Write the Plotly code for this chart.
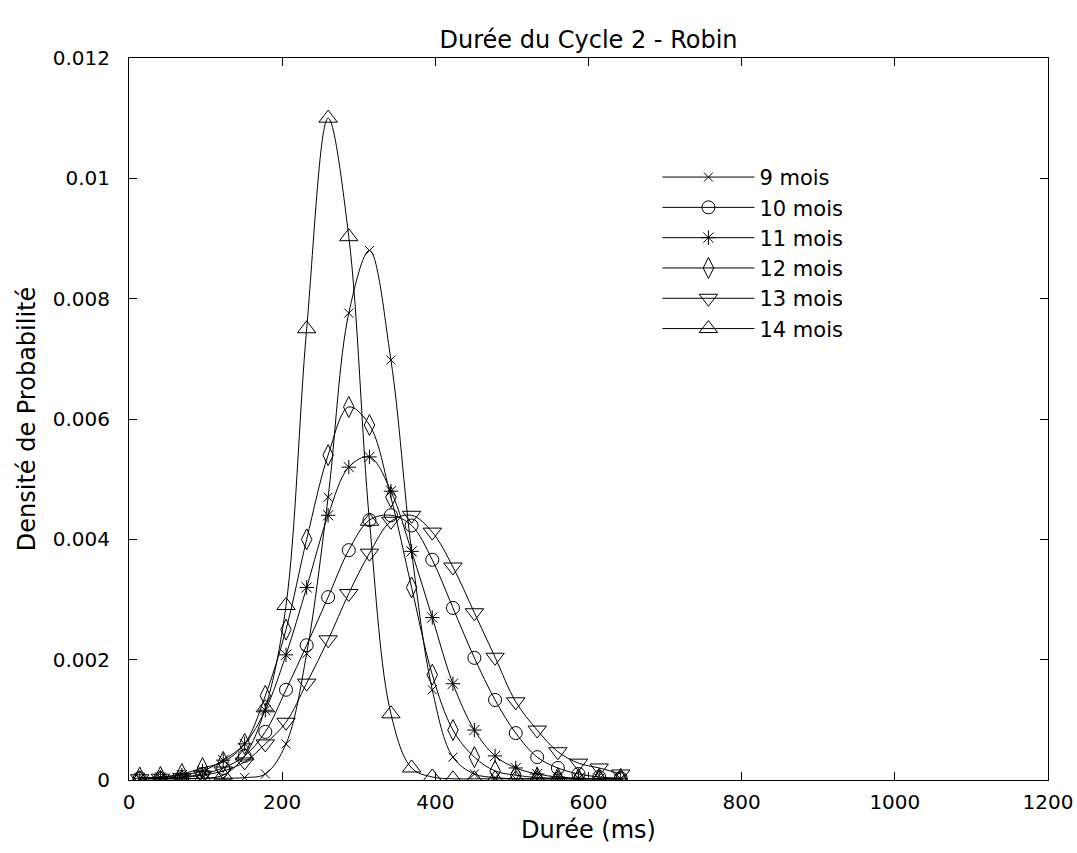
import plotly.graph_objects as go

# durée (ms), même grille pour toutes les courbes
duree = [14, 41, 69, 96, 123, 151, 178, 205, 232, 260, 287, 314,
         342, 369, 396, 423, 451, 478, 505, 533, 560, 587, 614, 642]

mois_9 = [0.00002, 0.00002, 0.00002, 0.00003, 0.00003, 0.00004, 0.0001, 0.0006,
          0.0021, 0.0047, 0.00776, 0.0088, 0.00698, 0.0038, 0.0015, 0.00038,
          0.0001, 0.00004, 0.00002, 0.00002, 0.00002, 0.00002, 0.00002, 0.00002]
mois_10 = [0.00003, 0.00003, 0.00005, 0.0001, 0.0002, 0.0004, 0.0008, 0.0015,
           0.00224, 0.00304, 0.00382, 0.00432, 0.0044, 0.00423, 0.00366, 0.00286,
           0.00203, 0.00133, 0.00078, 0.00038, 0.0002, 0.0001, 0.00005, 0.00003]
mois_11 = [0.00003, 0.00004, 0.00008, 0.00015, 0.00033, 0.0006, 0.00116, 0.00208,
           0.0032, 0.0044, 0.0052, 0.00537, 0.0048, 0.0038, 0.0027, 0.0016,
           0.00083, 0.0004, 0.0002, 0.0001, 0.00005, 0.00003, 0.00002, 0.00002]
mois_12 = [0.00004, 0.00005, 0.0001, 0.0002, 0.0003, 0.0006, 0.0014, 0.0025,
           0.004, 0.0054, 0.0062, 0.0059, 0.0047, 0.0032, 0.00175, 0.00083,
           0.00038, 0.00015, 0.00008, 0.00004, 0.00003, 0.00002, 0.00002, 0.00002]
mois_13 = [0.00002, 0.00003, 0.00004, 0.00008, 0.00015, 0.0003, 0.0006, 0.00096,
           0.00161, 0.00233, 0.0031, 0.00377, 0.0043, 0.0044, 0.00412, 0.00354,
           0.00278, 0.00204, 0.0013, 0.00083, 0.00047, 0.00028, 0.0002, 0.0001]
mois_14 = [0.00002, 0.00002, 0.00002, 0.00003, 0.00008, 0.0004, 0.0012, 0.0029,
           0.0075, 0.011, 0.00903, 0.0043, 0.0011, 0.0002, 0.00005, 0.00002,
           0.00002, 0.00002, 0.00002, 0.00002, 0.00002, 0.00002, 0.00002, 0.00002]

noms = ["9 mois", "10 mois", "11 mois", "12 mois", "13 mois", "14 mois"]
series = [mois_9, mois_10, mois_11, mois_12, mois_13, mois_14]
symboles = ["x-thin-open", "circle-open", "asterisk-open",
            "diamond-tall-open", "triangle-down-open", "triangle-up-open"]
tailles = [9, 13, 12, 15, 16, 16]

x_ticks = [0, 200, 400, 600, 800, 1000, 1200]
y_ticks = [0, 0.002, 0.004, 0.006, 0.008, 0.01, 0.012]
y_labels = ["0", "0.002", "0.004", "0.006", "0.008", "0.01", "0.012"]

police = "DejaVu Sans, Verdana, sans-serif"

fig = go.Figure()
for nom, vals, sym, taille in zip(noms, series, symboles, tailles):
    fig.add_trace(go.Scatter(
        x=duree, y=vals, name=nom, mode="lines+markers",
        line=dict(color="black", width=1, shape="spline", smoothing=1),
        marker=dict(symbol=sym, size=taille, color="black",
                    line=dict(color="black", width=1)),
    ))

axe = dict(showline=True, linecolor="black", linewidth=1, mirror="ticks",
           ticks="inside", ticklen=8, tickcolor="black", tickwidth=1,
           showgrid=False, zeroline=False, automargin=False,
           tickfont=dict(family=police, size=20, color="black"))

fig.update_layout(
    width=1077, height=853,
    paper_bgcolor="white", plot_bgcolor="white",
    margin=dict(l=129, r=29, t=58, b=73),
    title=dict(text="Durée du Cycle 2 - Robin", xref="paper", x=0.5,
               xanchor="center", y=0.953, yanchor="middle",
               font=dict(family=police, size=24, color="black")),
    xaxis=dict(axe, range=[0, 1200], tickvals=x_ticks, ticklabelstandoff=4,
               title=dict(text="Durée (ms)", standoff=8,
                          font=dict(family=police, size=24, color="black"))),
    yaxis=dict(axe, range=[0, 0.012], tickvals=y_ticks, ticktext=y_labels,
               ticklabelstandoff=14,
               title=dict(text="Densité de Probabilité", standoff=10,
                          font=dict(family=police, size=24, color="black"))),
    legend=dict(x=0.575, y=0.863, xanchor="left", yanchor="top",
                itemwidth=92,
                bgcolor="rgba(0,0,0,0)", borderwidth=0,
                font=dict(family=police, size=21, color="black")),
    showlegend=True,
)

# pas de marge de page autour de la figure
fig.write_html("out.html", config={"displayModeBar": False},
               post_script="document.body.style.margin='0';"
                           "document.body.style.overflow='hidden';")
